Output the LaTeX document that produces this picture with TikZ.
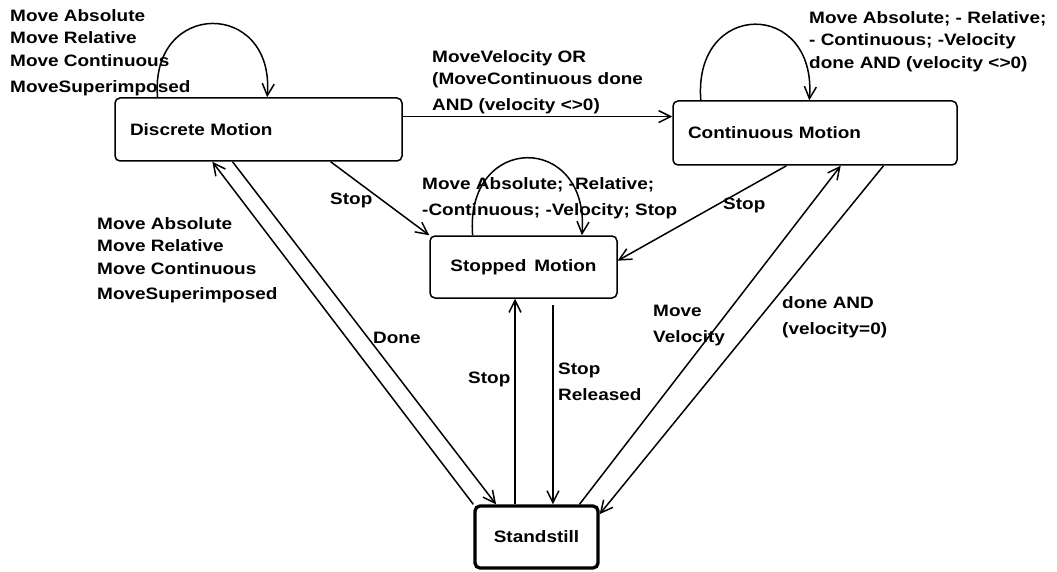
\documentclass[tikz,border=0pt]{standalone}
\usepackage{fontspec}
\setmainfont{Liberation Sans}[FakeStretch=1.15]
\usetikzlibrary{arrows.meta,calc}
\newcommand\dgfont{\fontsize{16.5}{22.5}\selectfont\bfseries}
\begin{document}
\begin{tikzpicture}[x=1pt,y=-1pt,
  state/.style={draw, rounded corners=5pt, line width=1.5pt, inner sep=0pt, font=\dgfont},
  arr/.style={line width=1.5pt, -{Straight Barb[length=12pt,width=12pt,line width=1.5pt]}},
  lbl/.style={inner sep=0pt, font=\dgfont, align=left}]
\useasboundingbox (0,0) rectangle (1057,572);

% states
\node[state, minimum width=287pt, minimum height=63pt, text width=257pt, align=left] (dm) at (258.5,129.5) {Discrete Motion};
\node[state, minimum width=284pt, minimum height=64pt, text width=254pt, align=left] (cm) at (815,133) {Continuous Motion};
\node[state, minimum width=187pt, minimum height=62pt] (sm) at (523.5,267) {Stopped\ \,Motion};
\node[state, minimum width=123pt, minimum height=62pt, line width=3.3pt] (ss) at (536.5,537) {Standstill};

% self loops
\draw[arr] ($(dm.north west)!0.15!(dm.north east)$) .. controls +(-8,-98) and +(8,-98) .. ($(dm.north west)!0.53!(dm.north east)$);
\draw[arr] ($(cm.north west)!0.10!(cm.north east)$) .. controls +(-8,-101) and +(8,-101) .. ($(cm.north west)!0.48!(cm.north east)$);
\draw[arr] ($(sm.north west)!0.23!(sm.north east)$) .. controls +(-8,-103) and +(8,-103) .. ($(sm.north west)!0.81!(sm.north east)$);

% discrete -> continuous
\coordinate (h) at ($(dm.north east)!0.3!(dm.south east)$);
\draw[arr] (h) -- (h -| cm.west);

% to stopped
\draw[arr] ($(dm.south west)!0.75!(dm.south east)$) -- (sm.north west);
\draw[arr] ($(cm.south west)!0.40!(cm.south east)$) -- ($(sm.north east)!0.4!(sm.south east)$);

% standstill <-> discrete
\draw[arr] (ss.north west) -- ($(dm.south west)!0.34!(dm.south east)$);
\draw[arr] ($(dm.south west)!0.41!(dm.south east)$) -- ($(ss.north west)!0.18!(ss.north east)$);

% standstill <-> stopped
\coordinate (u) at ($(ss.north west)!0.33!(ss.north east)$);
\coordinate (d) at ($(ss.north west)!0.63!(ss.north east)$);
\draw[arr] (u) -- (u |- sm.south);
\draw[arr] ($(d |- sm.south)+(0,6)$) -- (d);

% standstill <-> continuous
\draw[arr] ($(ss.north west)!0.84!(ss.north east)$) -- ($(cm.south west)!0.59!(cm.south east)$);
\draw[arr] ($(cm.south west)!0.74!(cm.south east)$) -- ($(ss.north east)!0.15!(ss.south east)$);

% labels
\node[lbl, anchor=north west] (l1) at (10,9) {Move Absolute\\Move Relative\\Move Continuous\\[4pt]MoveSuperimposed};
\node[lbl, anchor=north west] (l2) at (432,50) {MoveVelocity OR\\(MoveContinuous done\\[3pt]AND (velocity <>0)};
\node[lbl, anchor=north west] (l3) at (809,11) {Move Absolute; - Relative;\\- Continuous; -Velocity\\done AND (velocity <>0)};
\node[lbl, anchor=west] (l4) at (330,200) {Stop};
\node[lbl, anchor=north west] (l5) at (97,217) {Move Absolute\\Move Relative\\Move Continuous\\[3pt]MoveSuperimposed};
\node[lbl, anchor=north west] (l6) at (422,177) {Move Absolute; -Relative;\\[3.5pt]-Continuous; -Velocity; Stop};
\node[lbl, anchor=west] (l7) at (723,205) {Stop};
\node[lbl, anchor=west] (l8) at (373,338) {Done};
\node[lbl, anchor=west] (l9) at (468,379) {Stop};
\node[lbl, anchor=north west] (l10) at (558,363) {Stop\\[3.5pt]Released};
\node[lbl, anchor=north west] (l11) at (653,305) {Move\\[3.5pt]Velocity};
\node[lbl, anchor=north west] (l12) at (782,296) {done AND\\[3.5pt](velocity=0)};
\end{tikzpicture}
\end{document}
